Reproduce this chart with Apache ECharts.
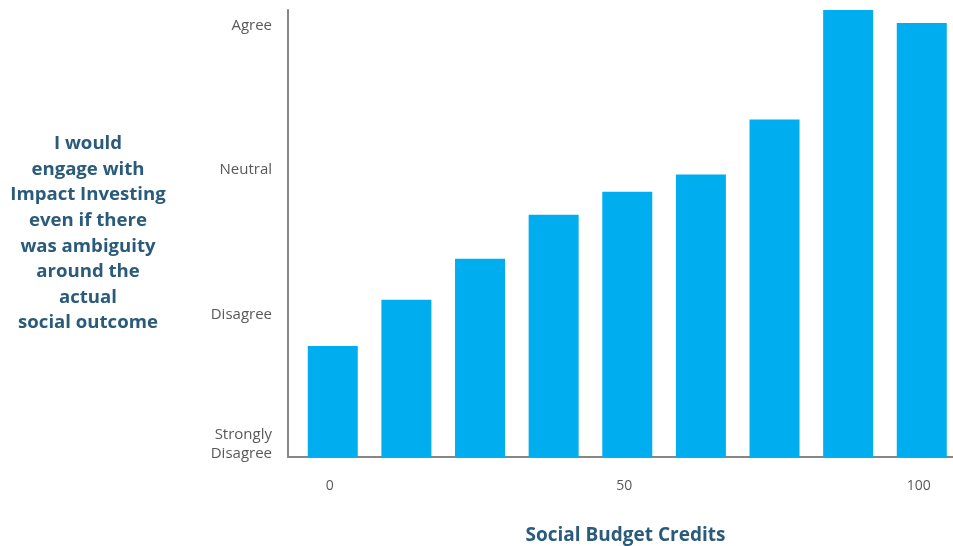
<!DOCTYPE html>
<html><head><meta charset="utf-8">
<script src="https://cdn.jsdelivr.net/npm/echarts@6/dist/echarts.min.js"></script>
<style>html,body{margin:0;padding:0;background:#fff}#c{width:953px;height:546px}</style>
</head><body><div id="c"></div>
<script>
const credits = [0, 12.5, 25, 37.5, 50, 62.5, 75, 87.5, 100];
const agreement = [1.77, 2.09, 2.375, 2.68, 2.84, 2.96, 3.34, 4.10, 4.01];
const xTicks = [0, 50, 100];
const yTicks = [1, 2, 3, 4];
const yTickLabels = ['Strongly\nDisagree', 'Disagree', 'Neutral', 'Agree'];
const yTitle = 'I would\nengage with\nImpact Investing\neven if there\nwas ambiguity\naround the\nactual\nsocial outcome';
const xTitle = 'Social Budget Credits';

const chart = echarts.init(document.getElementById('c'));
const font = 'Open Sans';
chart.setOption({
  animation: false,
  grid: {left: 288, right: 0, top: 10, bottom: 89, outerBoundsMode: 'none', containLabel: false},
  xAxis: {
    type: 'value', min: -7.6, max: 105.3,
    name: xTitle, nameLocation: 'middle', nameGap: 69,
    nameTextStyle: {fontFamily: font, fontSize: 19, fontWeight: 'bold', color: '#2a5b7b', padding: [0, 0, 0, 10]},
    axisLine: {show: true, onZero: false, lineStyle: {color: '#868686', width: 2}},
    axisTick: {show: false},
    splitLine: {show: false},
    axisLabel: {customValues: xTicks, margin: 22, fontFamily: font, fontSize: 14, color: '#595959', padding: [0, 6, 0, 0]}
  },
  yAxis: {
    type: 'value', min: 1, max: 4.1,
    name: yTitle, nameLocation: 'middle', nameRotate: 0, nameGap: 200,
    nameTextStyle: {fontFamily: font, fontSize: 18.6, fontWeight: 'bold', color: '#2a5b7b', align: 'center', lineHeight: 25.6, padding: [4, 0, 0, 0]},
    axisLine: {show: true, onZero: false, lineStyle: {color: '#868686', width: 2}},
    axisTick: {show: false},
    splitLine: {show: false},
    axisLabel: {
      customValues: yTicks, margin: 16, fontFamily: font, fontSize: 15, color: '#595959', padding: [3, 0, 0, 0],
      formatter: function (v) {
        const i = yTicks.indexOf(Math.round(v));
        if (i === 0) return '{sd|' + yTickLabels[0] + '}';
        return i >= 0 ? yTickLabels[i] : '';
      },
      rich: {sd: {fontFamily: font, fontSize: 15, color: '#595959', lineHeight: 19, align: 'right', padding: [0, 0, 28, 0]}}
    }
  },
  series: [{
    type: 'bar', barWidth: 50,
    itemStyle: {color: '#00AEEF'},
    data: credits.map((c, i) => [c, agreement[i]])
  }]
});
</script></body></html>
